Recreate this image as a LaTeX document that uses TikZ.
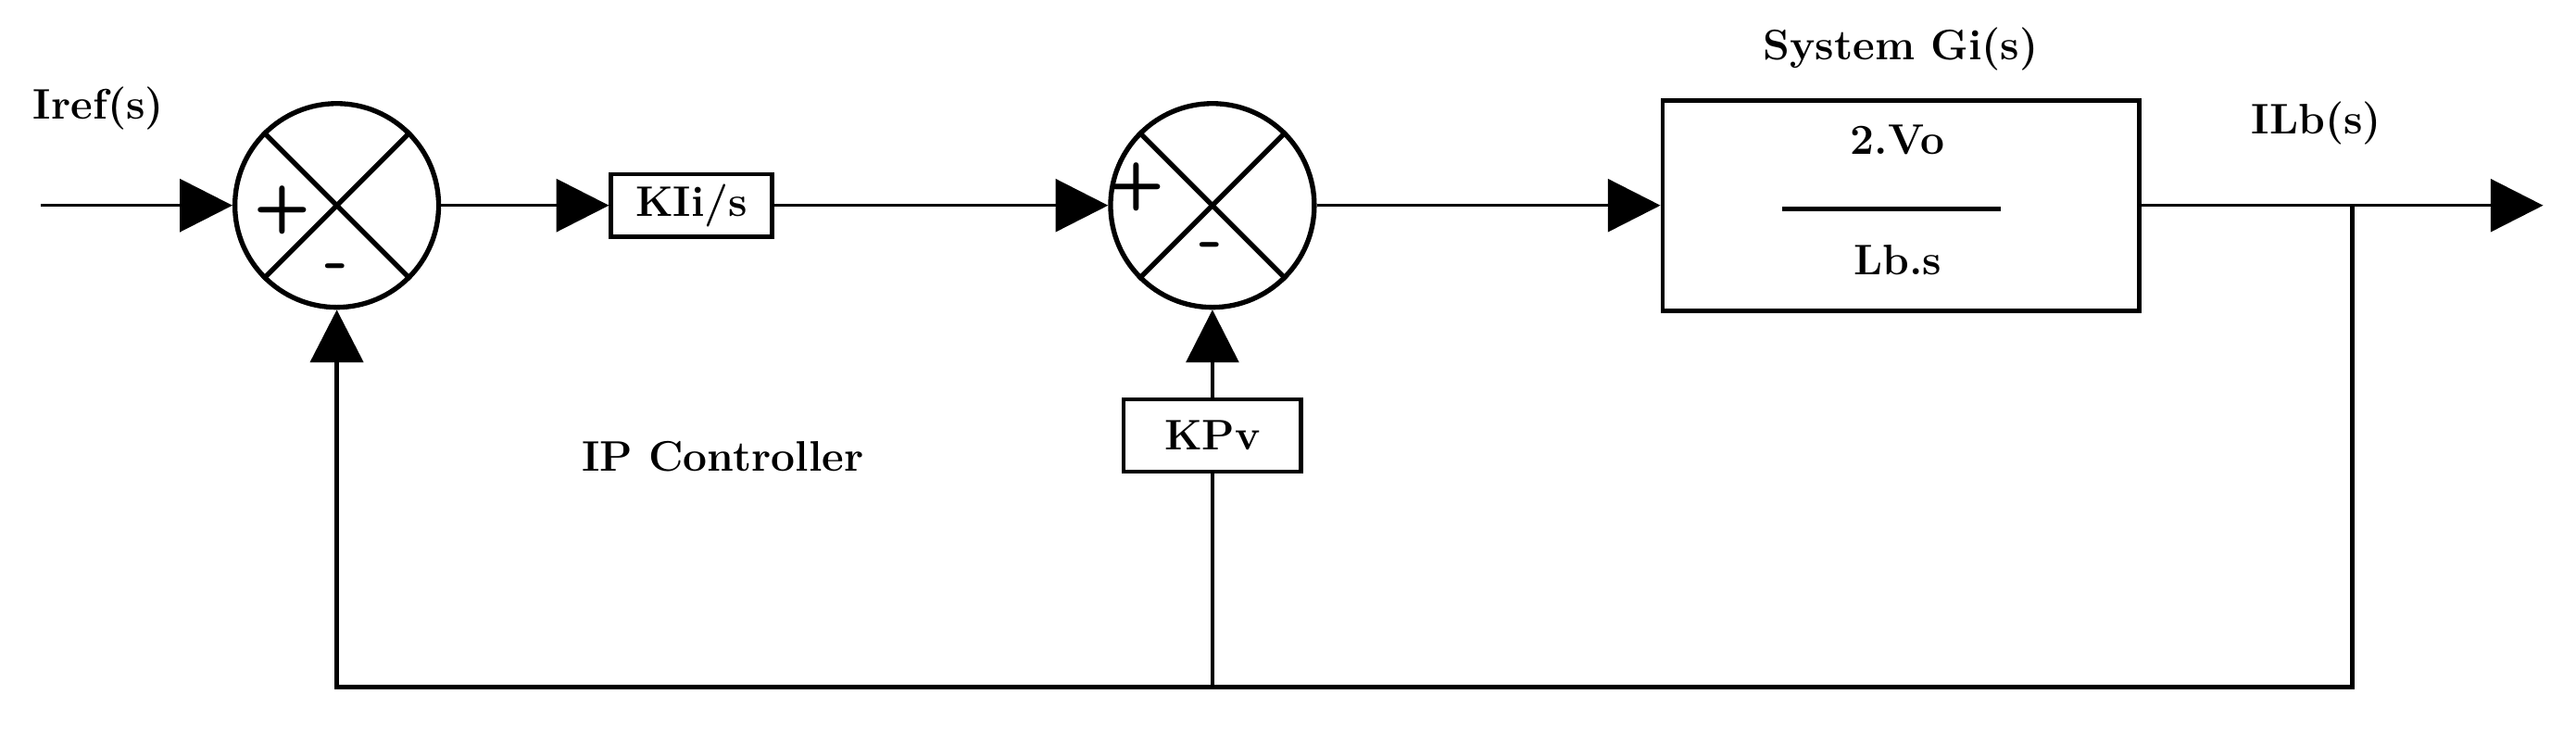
\documentclass[tikz,border=0pt]{standalone}
\usetikzlibrary{arrows.meta}
\begin{document}
\begin{tikzpicture}[x=0.5pt,y=-0.5pt,
  lbl/.style={font=\fontsize{13}{15}\selectfont\bfseries},
  sgn/.style={font=\sffamily\bfseries\fontsize{20}{22}\selectfont},
  sumc/.style={draw,circle,line width=1.5pt,minimum size=62pt,inner sep=0pt},
  blk/.style={draw,line width=1.3pt,inner sep=0pt},
  ar/.style={-{Triangle[length=16pt,width=16pt]},line width=1pt},
  ln/.style={line width=1pt}]
\useasboundingbox (0,0) rectangle (1568,445);
\node[sumc] (s1) at (205,125) {};
\node[sumc] (s2) at (738,125) {};
\foreach \s in {s1,s2}{
 \draw[line width=1.5pt] (\s.north west) -- (\s.south east);
 \draw[line width=1.5pt] (\s.north east) -- (\s.south west);}
\node[sgn] at (172,128) {+};
\node[sgn] at (205,166) {-};
\node[sgn] at (692,114) {+};
\node[sgn] at (737,153) {-};
\node[blk,minimum width=49pt,minimum height=19pt,lbl] (ki) at (421,125) {KIi/s};
\node[blk,minimum width=54pt,minimum height=22pt,lbl] (kp) at (738,265) {KPv};
\node[blk,minimum width=145pt,minimum height=64pt] (g) at (1157,125) {};
\node[lbl] at (1155,85) {2.Vo};
\node[lbl] at (1155,158) {Lb.s};
\draw[line width=1.3pt] (1085,127) -- (1218,127);
\node[lbl] at (1157,30) {System Gi(s)};
\node[lbl] at (60,66) {Iref(s)};
\node[lbl] at (1410,75) {ILb(s)};
\node[lbl] at (440,278) {IP Controller};
\coordinate (in) at (25,125);
\coordinate (out) at (1548,125);
\coordinate (br) at (1432,125);
\coordinate (c1) at (1432,418);
\coordinate (c2) at (205,418);
\coordinate (c3) at (738,418);
\draw[ar] (in) -- (s1.west);
\draw[ar] (s1.east) -- (ki.west);
\draw[ar] (ki.east) -- (s2.west);
\draw[ar] (s2.east) -- (g.west);
\draw[ar] (g.east) -- (out);
\draw[ar,line width=1.5pt] (br) -- (c1) -- (c2) -- (s1.south);
\draw[ln] (c3) -- (kp.south);
\draw[ar] (kp.north) -- (s2.south);
\end{tikzpicture}
\end{document}
